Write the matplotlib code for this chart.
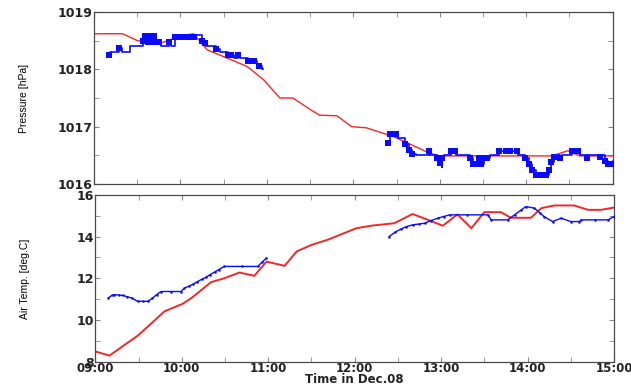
import matplotlib
matplotlib.use("Agg")

import matplotlib.pyplot as plt
import numpy as np
from matplotlib.ticker import MultipleLocator

# time axis: hours after 09:00 on Dec.08
hour_ticks = [0, 1, 2, 3, 4, 5, 6]
hour_labels = ["09:00", "10:00", "11:00", "12:00", "13:00", "14:00", "15:00"]

# model pressure (red)
press_model_t = [0.00, 0.33, 0.50, 0.76, 1.00, 1.15, 1.31, 1.77, 1.96, 2.15, 2.30, 2.50,
                 2.61, 2.81, 2.98, 3.15, 3.46, 3.88, 4.00, 5.30, 5.48, 5.62, 6.00]
press_model_p = [1018.62, 1018.62, 1018.50, 1018.45, 1018.58, 1018.62, 1018.34, 1018.05,
                 1017.82, 1017.50, 1017.50, 1017.30, 1017.20, 1017.19, 1017.00, 1016.98,
                 1016.83, 1016.54, 1016.49, 1016.49, 1016.58, 1016.49, 1016.49]

# observed pressure (blue, step line); flag = 1 where a square marker is drawn
press_obs_t = [0.17, 0.19, 0.29, 0.32, 0.42, 0.57, 0.59, 0.62, 0.64, 0.67, 0.69, 0.72,
               0.75, 0.77, 0.87, 0.89, 0.94, 0.97, 1.01, 1.05, 1.09, 1.13, 1.16, 1.18,
               1.25, 1.28, 1.30, 1.41, 1.46, 1.55, 1.59, 1.62, 1.66, 1.69, 1.78, 1.82,
               1.85, 1.88, 1.91, 1.94, 1.95,
               3.40, 3.42, 3.45, 3.49, 3.52, 3.60, 3.64, 3.68, 3.72, 3.87, 3.89, 3.97,
               4.00, 4.02, 4.03, 4.05, 4.13, 4.17, 4.19, 4.35, 4.38, 4.42, 4.45, 4.48,
               4.51, 4.55, 4.58, 4.69, 4.77, 4.81, 4.89, 4.91, 4.99, 5.03, 5.07, 5.11,
               5.15, 5.19, 5.23, 5.26, 5.29, 5.32, 5.34, 5.39, 5.41, 5.53, 5.60, 5.62,
               5.70, 5.72, 5.85, 5.87, 5.91, 5.95, 5.98, 6.00]
press_obs_p = [1018.25, 1018.30, 1018.37, 1018.30, 1018.40, 1018.50, 1018.58, 1018.48,
               1018.58, 1018.48, 1018.58, 1018.48, 1018.48, 1018.40, 1018.47, 1018.40,
               1018.57, 1018.57, 1018.57, 1018.57, 1018.57, 1018.60, 1018.57, 1018.60,
               1018.50, 1018.45, 1018.40, 1018.35, 1018.30, 1018.25, 1018.25, 1018.20,
               1018.25, 1018.20, 1018.15, 1018.15, 1018.15, 1018.10, 1018.05, 1018.00,
               np.nan,
               1016.72, 1016.87, 1016.87, 1016.87, 1016.80, 1016.70, 1016.60, 1016.52,
               1016.50, 1016.57, 1016.50, 1016.45, 1016.37, 1016.30, 1016.45, 1016.50,
               1016.57, 1016.57, 1016.50, 1016.45, 1016.35, 1016.35, 1016.45, 1016.35,
               1016.45, 1016.45, 1016.50, 1016.57, 1016.57, 1016.57, 1016.57, 1016.50,
               1016.45, 1016.35, 1016.25, 1016.15, 1016.15, 1016.15, 1016.15, 1016.25,
               1016.38, 1016.47, 1016.50, 1016.45, 1016.50, 1016.57, 1016.57, 1016.50,
               1016.45, 1016.50, 1016.47, 1016.50, 1016.40, 1016.35, 1016.35, 1016.40]
press_obs_flag = [1, 0, 1, 0, 0, 1, 1, 1, 1, 1, 1, 1, 1, 0, 1, 0, 1, 1, 1, 1, 1, 0, 1, 0,
                  1, 1, 0, 1, 0, 1, 1, 0, 1, 0, 1, 1, 1, 0, 1, 0, 0,
                  1, 1, 1, 1, 0, 1, 1, 1, 0, 1, 0, 1, 1, 0, 1, 0, 1, 1, 0, 1, 1, 1, 1, 1,
                  1, 1, 0, 1, 1, 1, 1, 0, 1, 1, 1, 1, 1, 1, 1, 1, 1, 1, 0, 1, 0, 1, 1, 0,
                  1, 0, 1, 0, 1, 1, 1, 0]

# model air temperature (red)
temp_model_t = [0.00, 0.165, 0.34, 0.49, 0.69, 0.80, 1.01, 1.11, 1.34, 1.49, 1.67, 1.84,
                1.98, 2.19, 2.33, 2.50, 2.69, 3.02, 3.19, 3.46, 3.67, 3.85, 4.02, 4.19,
                4.35, 4.50, 4.69, 4.81, 5.04, 5.16, 5.31, 5.54, 5.70, 5.85, 6.00]
temp_model_v = [8.50, 8.30, 8.82, 9.25, 10.00, 10.42, 10.78, 11.05, 11.82, 12.00, 12.28,
                12.12, 12.80, 12.60, 13.29, 13.60, 13.85, 14.40, 14.52, 14.64, 15.08,
                14.80, 14.52, 15.06, 14.40, 15.17, 15.17, 14.90, 14.90, 15.36, 15.49,
                15.49, 15.28, 15.28, 15.39]

# observed air temperature (blue)
temp_obs_t = [0.15, 0.19, 0.22, 0.27, 0.32, 0.37, 0.42, 0.49, 0.55, 0.61, 0.66, 0.71,
              0.76, 0.88, 0.99, 1.03, 1.08, 1.13, 1.18, 1.23, 1.28, 1.33, 1.38, 1.43,
              1.49, 1.70, 1.88, 1.93, 1.98, np.nan,
              3.40, 3.47, 3.54, 3.60, 3.67, 3.74, 3.81, 3.88, 3.96, 4.03, 4.10, 4.30,
              4.54, 4.58, 4.77, 4.85, 4.92, 4.98, 5.08, 5.14, 5.19, 5.29, 5.39, 5.50,
              5.60, 5.62, 5.78, 5.93, 6.00]
temp_obs_v = [11.06, 11.18, 11.22, 11.20, 11.18, 11.12, 11.06, 10.90, 10.90, 10.90,
              11.05, 11.22, 11.37, 11.37, 11.37, 11.53, 11.62, 11.72, 11.84, 11.95,
              12.05, 12.18, 12.30, 12.42, 12.57, 12.57, 12.57, 12.78, 12.97, np.nan,
              14.00, 14.22, 14.37, 14.48, 14.56, 14.60, 14.64, 14.76, 14.88, 14.96,
              15.04, 15.04, 15.04, 14.80, 14.80, 15.04, 15.25, 15.44, 15.36, 15.15,
              14.96, 14.72, 14.88, 14.72, 14.72, 14.80, 14.80, 14.80, 14.96]

press_ticks = [1016, 1017, 1018, 1019]
temp_ticks = [8, 10, 12, 14, 16]

RED = "#f0282a"
BLUE = "#0a0aff"
FRAME = "#4a4a4a"
NARROW = ["Liberation Sans Narrow", "Liberation Sans", "DejaVu Sans"]


def style_axis(ax):
    for spine in ax.spines.values():
        spine.set_color(FRAME)
        spine.set_linewidth(0.9)
    ax.tick_params(which="both", direction="in", top=True, right=True,
                   color="#8a8a8a", length=3.5, pad=1)
    ax.tick_params(axis="y", labelsize=9)
    ax.tick_params(axis="x", labelsize=8.5)
    ax.set_xlim(0, 6)
    ax.set_xticks(hour_ticks)
    ax.xaxis.set_minor_locator(MultipleLocator(0.5))
    for lab in ax.get_yticklabels() + ax.get_xticklabels():
        lab.set_fontweight("bold")
        lab.set_color("#222222")


fig = plt.figure(figsize=(6.31, 3.85), dpi=100)
ax1 = fig.add_axes([0.149, 0.522, 0.822, 0.447])
ax2 = fig.add_axes([0.151, 0.060, 0.822, 0.434])

# pressure panel
ax1.plot(press_model_t, press_model_p, color=RED, lw=1.0, zorder=2)
t_obs = np.array(press_obs_t)
p_obs = np.array(press_obs_p)
flag = np.array(press_obs_flag, dtype=bool)
ax1.plot(t_obs, p_obs, color=BLUE, lw=1.2, drawstyle="steps-post", zorder=3)
ax1.plot(t_obs[flag], p_obs[flag], "s", color=BLUE, ms=3.8, mew=0, zorder=4)
ax1.set_ylim(1016, 1019)
ax1.set_yticks(press_ticks)
ax1.yaxis.set_minor_locator(MultipleLocator(0.5))
ax1.set_xticklabels([])
style_axis(ax1)
ax1.set_ylabel("Pressure [hPa]", family=NARROW, fontsize=7.5)
ax1.yaxis.set_label_coords(-0.125, 0.5)

# temperature panel
ax2.plot(temp_model_t, temp_model_v, color=RED, lw=1.4, zorder=2)
ax2.plot(temp_obs_t, temp_obs_v, color=BLUE, lw=1.0, marker="o", ms=1.8, mew=0,
         zorder=3)
ax2.set_ylim(8, 16)
ax2.set_yticks(temp_ticks)
ax2.yaxis.set_minor_locator(MultipleLocator(1))
ax2.set_xticklabels(hour_labels)
style_axis(ax2)
ax2.tick_params(axis="x", pad=0)
ax2.set_ylabel("Air Temp. [deg.C]", family=NARROW, fontsize=7.5)
ax2.yaxis.set_label_coords(-0.125, 0.5)
ax2.set_xlabel("Time in Dec.08", fontsize=8.5, fontweight="bold", color="#222222")
ax2.xaxis.set_label_coords(0.5, -0.064)

fig.savefig("out.png", dpi=100)
